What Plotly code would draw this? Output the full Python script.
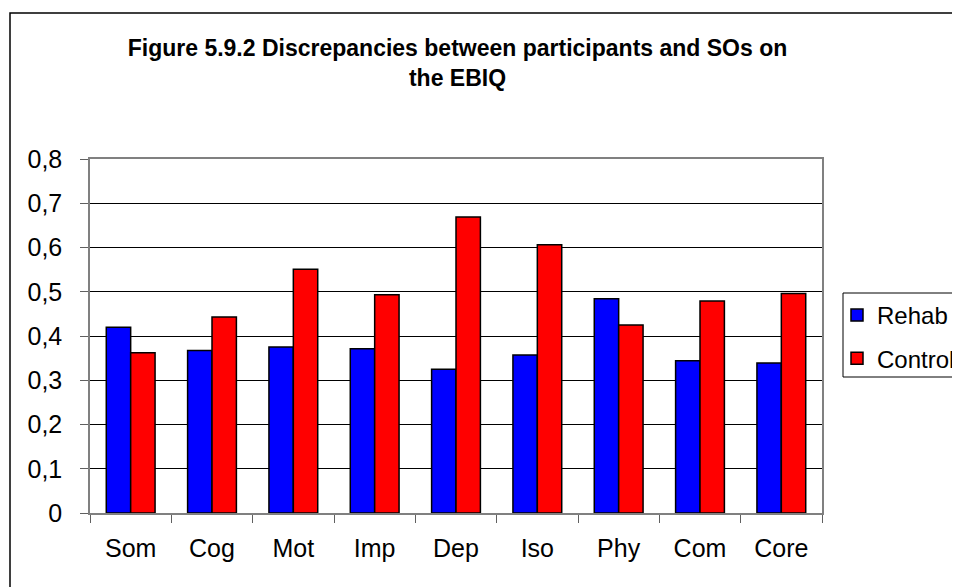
import plotly.graph_objects as go

categories = ["Som", "Cog", "Mot", "Imp", "Dep", "Iso", "Phy", "Com", "Core"]
rehab = [0.420, 0.367, 0.375, 0.371, 0.325, 0.357, 0.484, 0.344, 0.339]
control = [0.362, 0.443, 0.551, 0.493, 0.669, 0.606, 0.425, 0.479, 0.496]
y_ticks = [0, 0.1, 0.2, 0.3, 0.4, 0.5, 0.6, 0.7, 0.8]
title_text = "Figure 5.9.2 Discrepancies between participants and SOs on<br>the EBIQ"

FONT = "Arial, Liberation Sans, sans-serif"
FS = 25

fig = go.Figure()
fig.add_trace(go.Bar(x=categories, y=rehab, name="Rehab", legendgroup="a",
                     marker=dict(color="#0000FF", line=dict(color="#000000", width=1.5))))
fig.add_trace(go.Bar(x=categories, y=control, name="Control", legendgroup="b",
                     marker=dict(color="#FF0000", line=dict(color="#000000", width=1.5))))

# page body has an 8px margin; figure coordinates = page coordinates - 8
OFF = 8
W, H = 960 - OFF, 587 - OFF
L, R, T, B = 90 - OFF, W - (822 - OFF), 159 - OFF, H - (513 - OFF)
pw, ph = W - L - R, H - T - B

def px_x(px):  # page px -> paper x
    return (px - OFF - L) / pw

def px_y(py):  # page px -> paper y
    return (H - B - (py - OFF)) / ph

fig.update_layout(
    width=W, height=H,
    margin=dict(l=L, r=R, t=T, b=B, pad=0, autoexpand=False),
    paper_bgcolor="white", plot_bgcolor="white",
    separators=",.",
    font=dict(family=FONT, size=FS, color="black"),
    barmode="group", bargap=0.40, bargroupgap=0,
    title=dict(text="<b>" + title_text + "</b>", font=dict(family=FONT, size=23, color="black"),
               x=(457.5 - OFF) / W, xref="container", xanchor="center",
               y=1 - 48 / H, yref="container", yanchor="top"),
    legend=dict(x=px_x(837), y=px_y(293), xanchor="left", yanchor="top",
                borderwidth=0, bgcolor="rgba(0,0,0,0)",
                font=dict(family=FONT, size=24, color="black"),
                traceorder="grouped", tracegroupgap=9),
    xaxis=dict(showline=True, linecolor="#808080", linewidth=1.5, mirror=True,
               ticks="outside", tickson="boundaries", ticklen=8, tickcolor="#606060",
               tickfont=dict(family=FONT, size=FS, color="black"), automargin=False,
               ticklabelstandoff=12, showgrid=False),
    yaxis=dict(range=[0, 0.8], tickvals=y_ticks, showline=True, linecolor="#808080",
               linewidth=1.5, mirror=True, ticks="outside", ticklen=8, tickcolor="#606060",
               showgrid=True, gridcolor="black", gridwidth=1, zeroline=False,
               tickfont=dict(family=FONT, size=FS, color="black"), automargin=False,
               ticklabelstandoff=13),
    shapes=[
        dict(type="rect", xref="paper", yref="paper",
             x0=px_x(10), x1=px_x(990), y0=px_y(640), y1=px_y(13),
             line=dict(color="black", width=1.5), fillcolor="rgba(0,0,0,0)", layer="below"),
        dict(type="rect", xref="paper", yref="paper",
             x0=px_x(843), x1=px_x(990), y0=px_y(377), y1=px_y(293),
             line=dict(color="black", width=1), fillcolor="white", layer="below"),
    ],
)

fig.write_html("out.html")
